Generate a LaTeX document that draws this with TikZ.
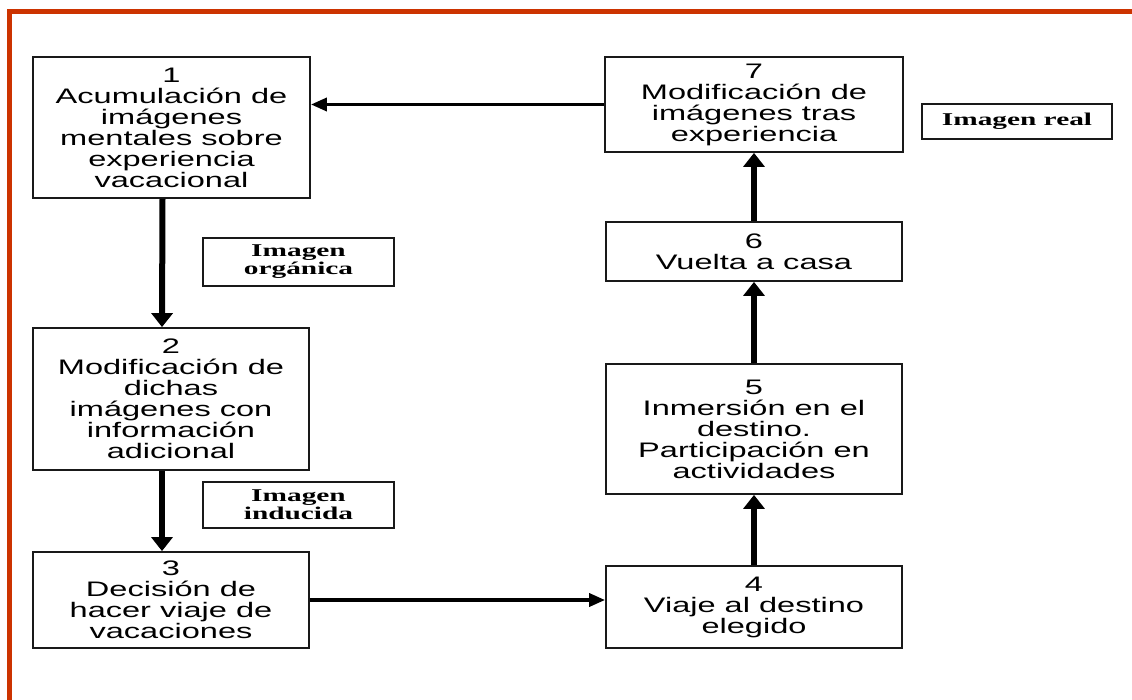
\documentclass[tikz,border=0pt]{standalone}
\usepackage{fontspec}
\newfontfamily\boxfont[FakeStretch=1.55]{Liberation Sans}
\newfontfamily\labfont[FakeStretch=1.63]{Liberation Serif}
\usetikzlibrary{arrows.meta}
\definecolor{framered}{HTML}{CC3300}
\begin{document}
\begin{tikzpicture}[x=1pt,y=-1pt,
  stagebox/.style={draw=black!90,line width=1.8pt,inner sep=0pt,align=center,
    font=\boxfont\fontsize{21}{21}\selectfont},
  labbox/.style={draw=black!90,line width=1.6pt,inner sep=0pt,align=center,
    font=\labfont\bfseries\fontsize{18}{18}\selectfont},
  varrow/.style={line width=6pt,-{Triangle[width=21pt,length=14pt]}},
  harrow/.style={line width=3.5pt,-{Triangle[width=13pt,length=16pt]}}]
\fill[white] (0,0) rectangle (1132,700);
\useasboundingbox (0,0) rectangle (1132,700);
\draw[framered,line width=5pt] (9,700) -- (9,11.5) -- (1132,11.5);

\node[stagebox,minimum width=277pt,minimum height=141pt] (b1) at (171.5,127.5)
  {1\\Acumulación de\\imágenes\\mentales sobre\\experiencia\\vacacional};
\node[stagebox,minimum width=276pt,minimum height=142pt] (b2) at (171,399)
  {2\\Modificación de\\dichas\\imágenes con\\información\\adicional};
\node[stagebox,minimum width=276pt,minimum height=96pt] (b3) at (171,600)
  {3\\Decisión de\\hacer viaje de\\vacaciones};
\node[stagebox,minimum width=296pt,minimum height=82pt] (b4) at (754,607)
  {4\\Viaje al destino\\elegido};
\node[stagebox,minimum width=296pt,minimum height=130pt] (b5) at (754,429)
  {5\\Inmersión en el\\destino.\\Participación en\\actividades};
\node[stagebox,minimum width=296pt,minimum height=59pt] (b6) at (754,251.5)
  {6\\Vuelta a casa};
\node[stagebox,minimum width=298pt,minimum height=95pt] (b7) at (754,104.5)
  {7\\Modificación de\\imágenes tras\\experiencia};

\node[labbox,minimum width=191pt,minimum height=48pt] (lo) at (298.5,262)
  {Imagen\\orgánica};
\node[labbox,minimum width=191pt,minimum height=46pt] (li) at (298.5,505)
  {Imagen\\inducida};
\node[labbox,minimum width=190pt,minimum height=35pt] (lr) at (1017,121.5)
  {Imagen real};

\draw[varrow] ([xshift=-9pt]b1.south) -- ([xshift=-9pt]b2.north);
\draw[varrow] ([xshift=-9pt]b2.south) -- ([xshift=-9pt]b3.north);
\draw[harrow] (b3.east) -- (b3.east -| b4.west);
\draw[varrow] (b4.north) -- (b5.south);
\draw[varrow] (b5.north) -- (b6.south);
\draw[varrow] (b6.north) -- (b7.south);
\draw[harrow] (b7.west) -- (b7.west -| b1.east);
\end{tikzpicture}
\end{document}
